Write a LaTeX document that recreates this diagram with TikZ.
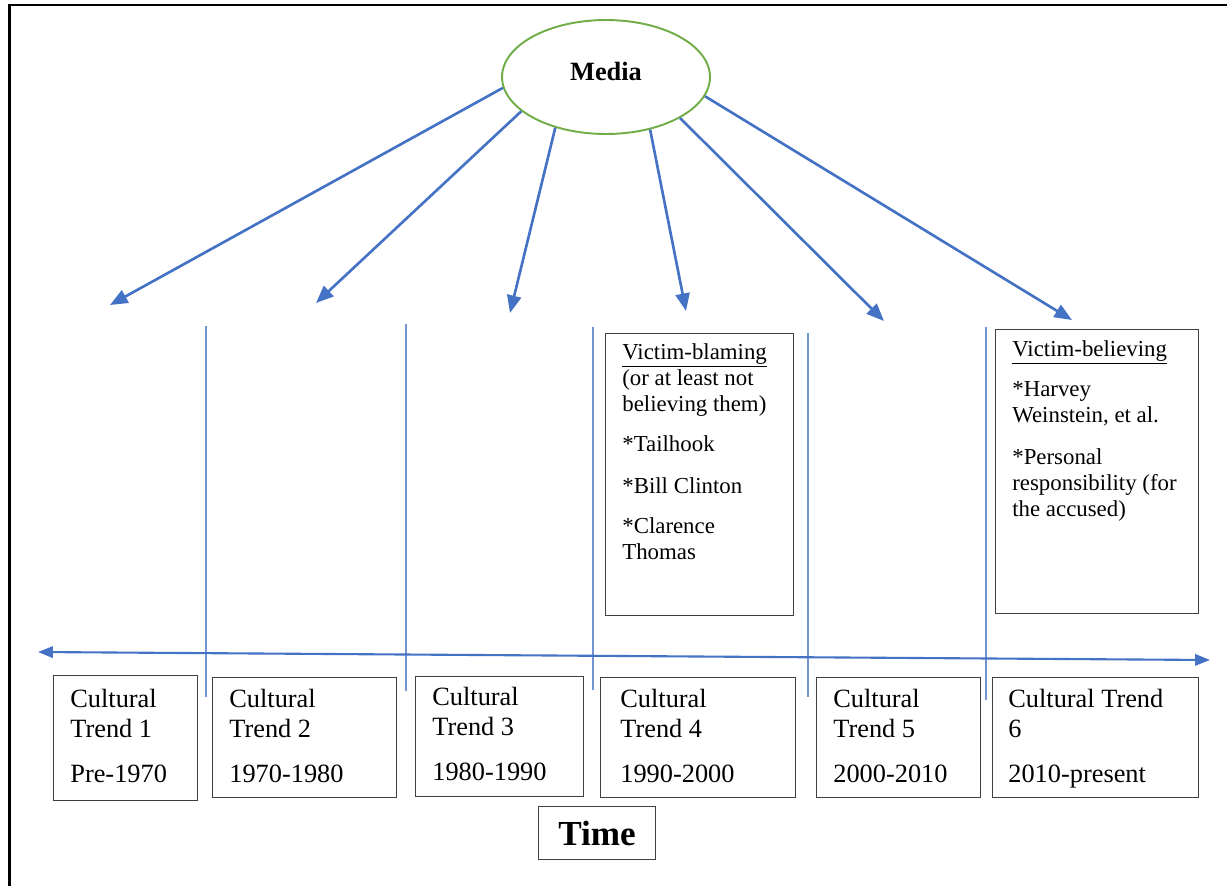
\documentclass[tikz,border=0pt]{standalone}
\usepackage{fontspec}
\setmainfont{Liberation Serif}
\usepackage{tikz}
\usetikzlibrary{shapes.geometric}
\usetikzlibrary{arrows.meta}

\definecolor{mediagreen}{RGB}{112,173,71}
\definecolor{arrowblue}{RGB}{68,114,196}
\definecolor{boxgray}{RGB}{64,64,64}

\tikzset{
  trendbox/.style={draw=boxgray, line width=0.6pt, inner sep=0pt, anchor=north west},
  trendtext/.style={anchor=north west, inner sep=0pt, align=left, font=\fontsize{15}{17}\selectfont},
  notetext/.style={anchor=north west, inner sep=0pt, align=left, font=\fontsize{13}{14.8}\selectfont},
  mediaarrow/.style={draw=arrowblue, line width=1.5pt, -{Triangle[length=10pt,width=8pt]}},
  timeline/.style={draw=arrowblue, line width=1.2pt, {Triangle[length=8.5pt,width=6.5pt]}-{Triangle[length=8.5pt,width=6.5pt]}},
  divider/.style={draw=arrowblue!75, line width=0.6pt},
}

\begin{document}
\begin{tikzpicture}[x=0.02cm,y=-0.02cm]
        \useasboundingbox (0,0) rectangle (1227,886);
        \draw[line width=1.2pt] (9.5,886) -- (9.5,5) -- (1227,5);

        \node[ellipse, draw=mediagreen, line width=1.1pt, minimum width=4.16cm, minimum height=2.28cm, inner sep=0pt] (media) at (606,77) {};
        \node[font=\fontsize{15}{17}\selectfont\bfseries] (medialabel) at (606,71) {Media};

        \coordinate (tip1) at (110,305);
        \coordinate (tip2) at (316,303);
        \coordinate (tip3) at (510,313);
        \coordinate (tip4) at (686,311);
        \coordinate (tip5) at (884,321);
        \coordinate (tip6) at (1072,320);
        \draw[mediaarrow] (media.186) -- (tip1);
        \draw[mediaarrow] (media.202) -- (tip2);
        \draw[mediaarrow] (media.225) -- (tip3);
        \draw[mediaarrow] (media.310) -- (tip4);
        \draw[mediaarrow] (media.331) -- (tip5);
        \draw[mediaarrow] (media.349) -- (tip6);

        \draw[divider] (206,326) -- (206,697);
        \draw[divider] (406,324) -- (406,691);
        \draw[divider] (593,327) -- (593,690);
        \draw[divider] (808,333) -- (808,697);
        \draw[divider] (986,327) -- (986,700);

        \coordinate (past) at (38,652);
        \coordinate (future) at (1210,660);
        \draw[timeline] (past) -- (future);

        % notes above the timeline
        \node[trendbox, minimum width=3.76cm, minimum height=5.64cm] (blaming) at (605,333) {};
        \node[notetext] (blamingtext) at ([xshift=0.34cm, yshift=-0.2cm]blaming.north west)
          {\underline{Victim-blaming}\\(or at least not\\believing them)\\[8pt]*Tailhook\\[9pt]*Bill Clinton\\[8pt]*Clarence\\Thomas};
        \node[trendbox, minimum width=4.06cm, minimum height=5.68cm] (believing) at (995,329) {};
        \node[notetext] (believingtext) at ([xshift=0.34cm, yshift=-0.22cm]believing.north west)
          {\underline{Victim-believing}\\[8pt]*Harvey\\Weinstein, et al.\\[9pt]*Personal\\responsibility (for\\the accused)};

        % cultural trends
        \node[trendbox, minimum width=2.88cm, minimum height=2.50cm] (trend1) at (53,675) {};
        \node[trendbox, minimum width=3.68cm, minimum height=2.40cm] (trend2) at (212,677) {};
        \node[trendbox, minimum width=3.36cm, minimum height=2.40cm] (trend3) at (415,676) {};
        \node[trendbox, minimum width=3.90cm, minimum height=2.40cm] (trend4) at (600,677) {};
        \node[trendbox, minimum width=3.28cm, minimum height=2.40cm] (trend5) at (816,677) {};
        \node[trendbox, minimum width=4.12cm, minimum height=2.40cm] (trend6) at (992,677) {};
        \node[trendtext] (trend1text) at ([xshift=0.34cm, yshift=-0.28cm]trend1.north west) {Cultural\\Trend 1\\[8.5pt]Pre-1970};
        \node[trendtext] (trend2text) at ([xshift=0.34cm, yshift=-0.24cm]trend2.north west) {Cultural\\Trend 2\\[8.5pt]1970-1980};
        \node[trendtext] (trend3text) at ([xshift=0.34cm, yshift=-0.22cm]trend3.north west) {Cultural\\Trend 3\\[8.5pt]1980-1990};
        \node[trendtext] (trend4text) at ([xshift=0.4cm, yshift=-0.24cm]trend4.north west) {Cultural\\Trend 4\\[8.5pt]1990-2000};
        \node[trendtext] (trend5text) at ([xshift=0.34cm, yshift=-0.24cm]trend5.north west) {Cultural\\Trend 5\\[8.5pt]2000-2010};
        \node[trendtext] (trend6text) at ([xshift=0.32cm, yshift=-0.24cm]trend6.north west) {Cultural Trend\\6\\[8.5pt]2010-present};

        \node[trendbox, minimum width=2.34cm, minimum height=1.06cm, font=\fontsize{20}{24}\selectfont\bfseries] (time) at (538,806) {Time};
\end{tikzpicture}
\end{document}
